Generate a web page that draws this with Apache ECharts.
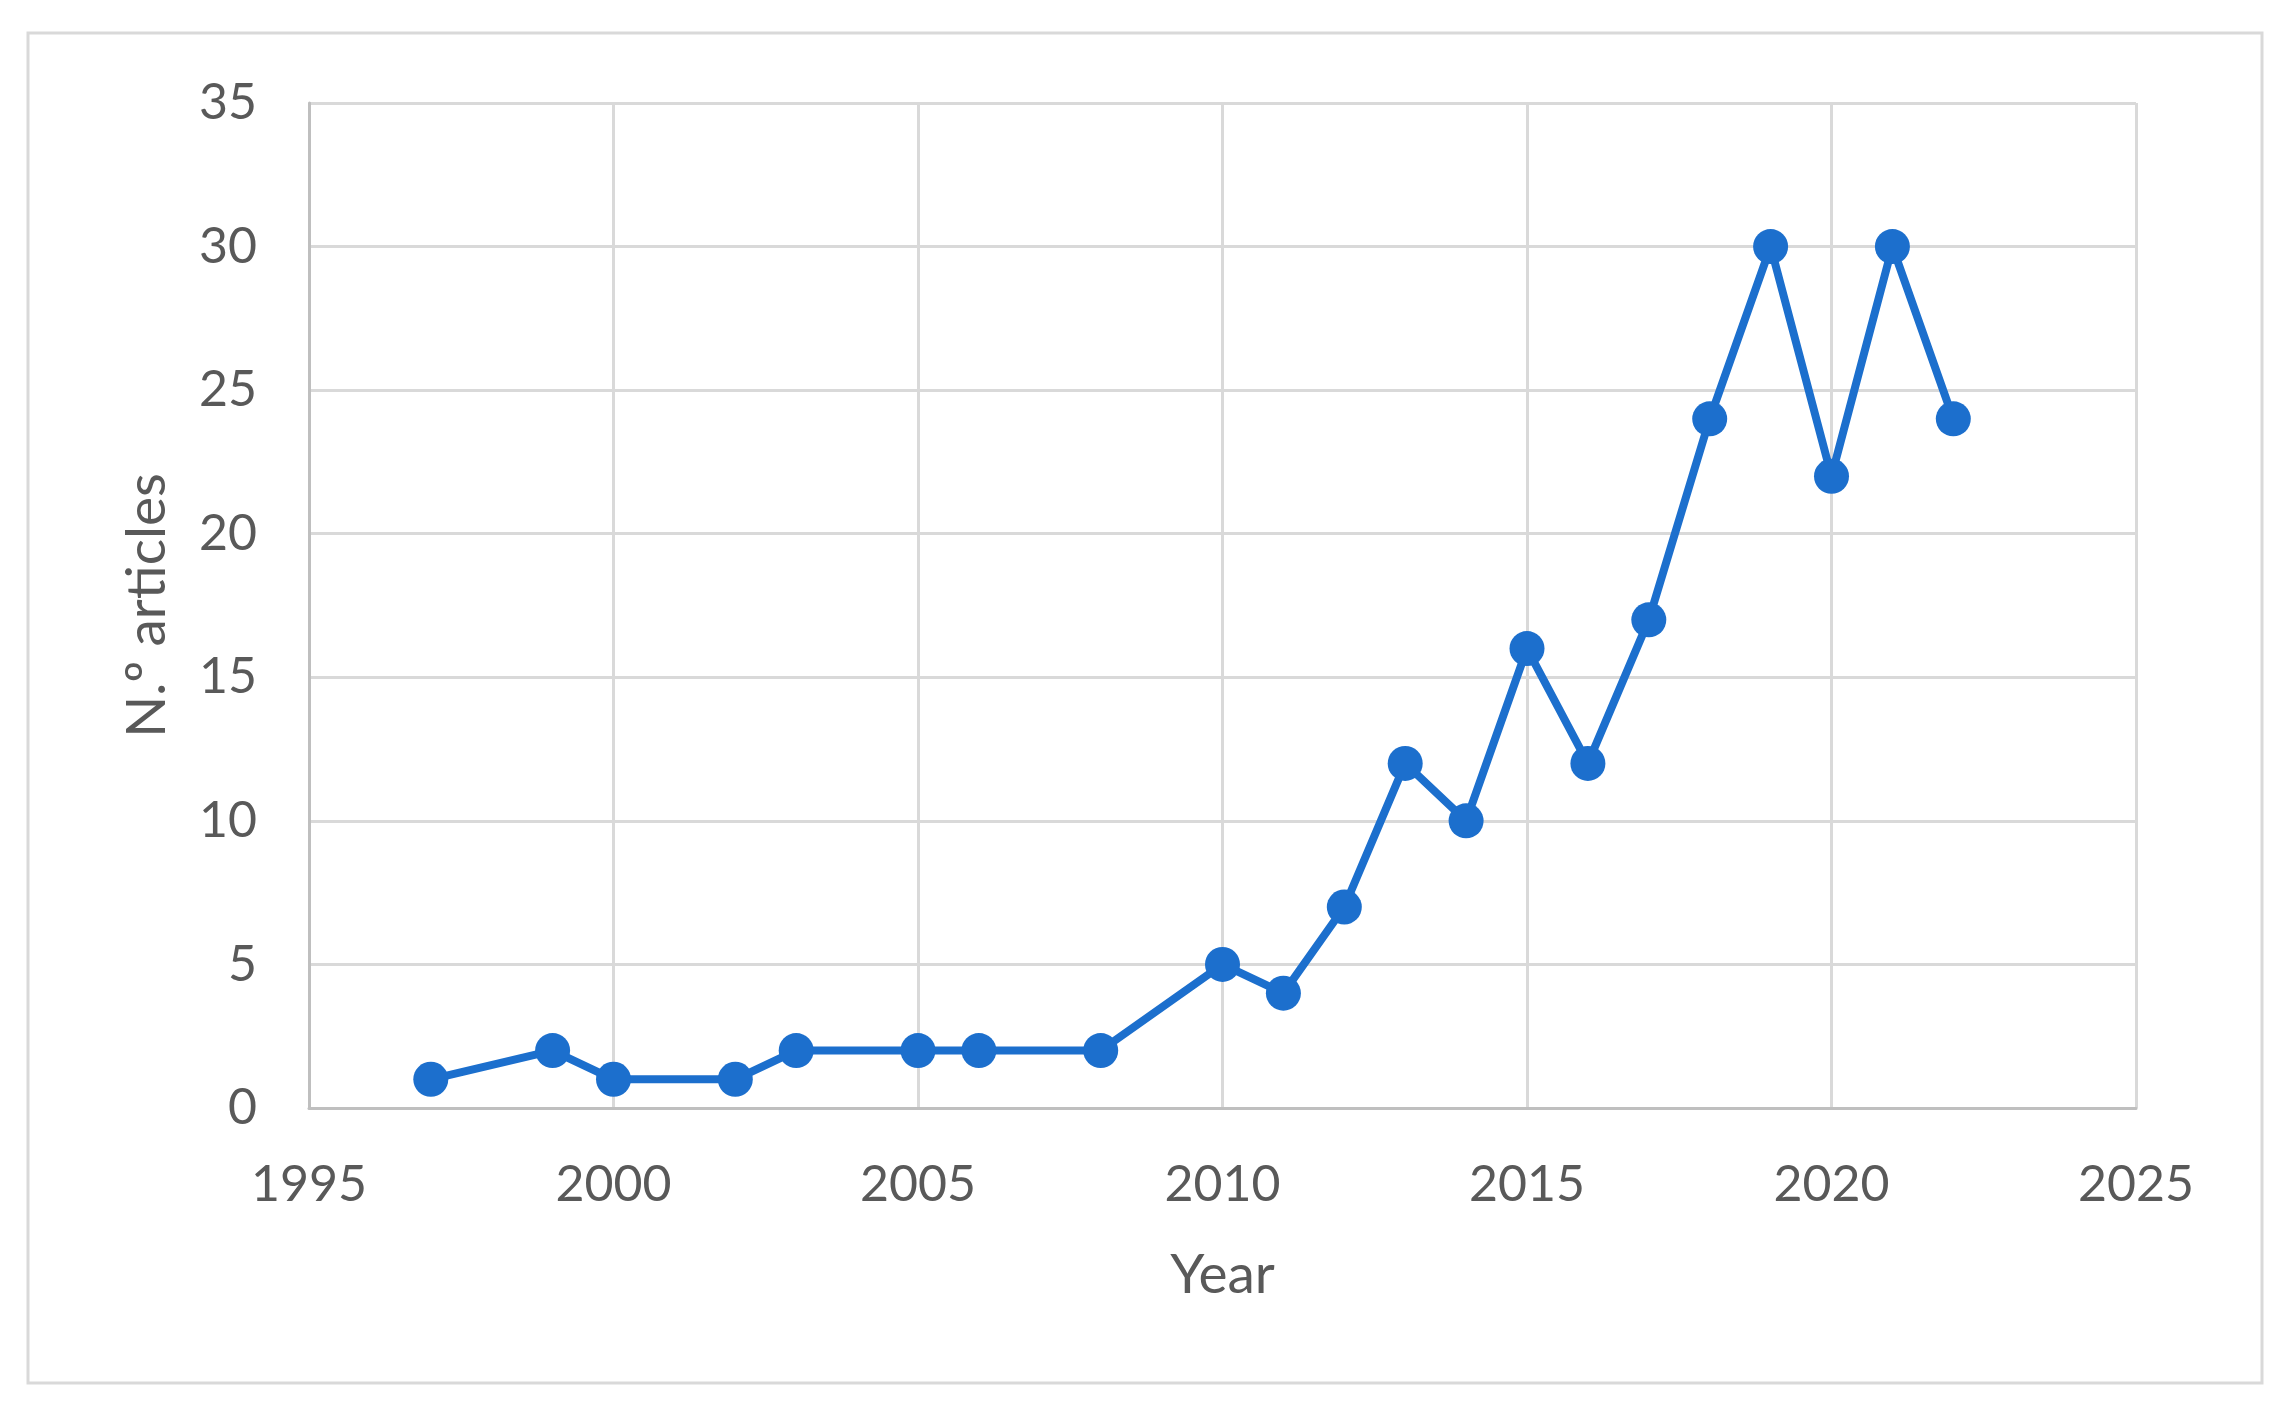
<!DOCTYPE html>
<html>
<head>
<meta charset="utf-8">
<script src="https://cdn.jsdelivr.net/npm/echarts@6/dist/echarts.min.js"></script>
<style>
	html, body { margin: 0; padding: 0; background: #fff; }
	#chart { width: 2282px; height: 1410px; }
</style>
</head>
<body>
<div id="chart"></div>
<script>
// data
const years = [1997, 1999, 2000, 2002, 2003, 2005, 2006, 2008, 2010, 2011, 2012,
	2013, 2014, 2015, 2016, 2017, 2018, 2019, 2020, 2021, 2022];
const articles = [1, 2, 1, 1, 2, 2, 2, 2, 5, 4, 7,
	12, 10, 16, 12, 17, 24, 30, 22, 30, 24];

function initChart(){
	let myChart = echarts.init(document.getElementById('chart'));
	let labelColor = '#595959';
	let font = 'Lato';

	let option = {
		animation: false,
		backgroundColor: '#fff',
		graphic: [{
			type: 'rect',
			shape: { x: 28, y: 33, width: 2234, height: 1350 },
			style: { fill: 'none', stroke: '#d9d9d9', lineWidth: 3 },
			silent: true
		}],
		grid: {
			left: 309,
			top: 103,
			width: 1827,
			height: 1005
		},
		xAxis: {
			type: 'value',
			min: 1995,
			max: 2025,
			interval: 5,
			name: 'Year',
			nameLocation: 'middle',
			nameGap: 140,
			nameTextStyle: { color: labelColor, fontFamily: font, fontSize: 55 },
			axisLine: { lineStyle: { color: '#bfbfbf', width: 3 } },
			axisTick: { show: false },
			splitLine: { show: true, lineStyle: { color: '#d9d9d9', width: 3 } },
			axisLabel: {
				color: labelColor,
				fontFamily: font,
				fontSize: 50,
				margin: 52,
				formatter: v => String(v)
			}
		},
		yAxis: {
			type: 'value',
			min: 0,
			max: 35,
			interval: 5,
			name: 'N.º articles',
			nameLocation: 'middle',
			nameGap: 134,
			nameTextStyle: { color: labelColor, fontFamily: font, fontSize: 55 },
			axisLine: { show: true, lineStyle: { color: '#bfbfbf', width: 3 } },
			axisTick: { show: false },
			splitLine: { show: true, lineStyle: { color: '#d9d9d9', width: 3 } },
			axisLabel: {
				color: labelColor,
				fontFamily: font,
				fontSize: 50,
				margin: 52
			}
		},
		series: [{
			type: 'line',
			data: years.map((y, i) => [y, articles[i]]),
			symbol: 'circle',
			symbolSize: 35,
			lineStyle: { color: '#1c6fcd', width: 8 },
			itemStyle: { color: '#1c6fcd' }
		}]
	};

	myChart.setOption(option);
	return myChart;
}

initChart();
</script>
</body>
</html>
